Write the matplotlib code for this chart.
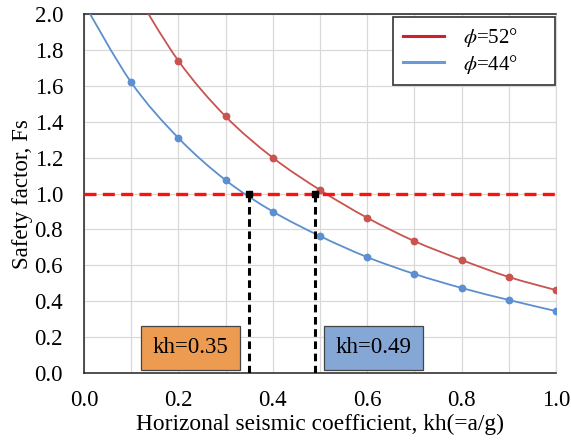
import matplotlib
matplotlib.use("Agg")
import matplotlib.pyplot as plt
from matplotlib.path import Path
from matplotlib.patches import PathPatch
from matplotlib.lines import Line2D
import numpy as np

plt.rcParams["font.family"] = ["Liberation Serif", "DejaVu Serif"]
plt.rcParams["mathtext.fontset"] = "stix"

# ---- data ----
kh_52 = [0.1, 0.2, 0.3, 0.4, 0.5, 0.6, 0.7, 0.8, 0.9, 1.0]
fs_52 = [2.16, 1.74, 1.43, 1.20, 1.02, 0.865, 0.735, 0.63, 0.535, 0.462]
kh_44 = [0.0, 0.1, 0.2, 0.3, 0.4, 0.5, 0.6, 0.7, 0.8, 0.9, 1.0]
fs_44 = [2.06, 1.62, 1.31, 1.075, 0.90, 0.763, 0.646, 0.552, 0.474, 0.407, 0.345]
kh_cross = [0.35, 0.49]
fs_limit = 1.0
box_labels = ["kh=0.35", "kh=0.49"]
box_x = [0.226, 0.614]        # box centres along x (data)

RED = "#C9534F"
BLUE = "#5B8FD0"
RED_LEG = "#D0202A"
BLUE_LEG = "#6A9BD8"


def smooth_path(xs, ys, t=1.0 / 6.0):
    """Excel-like smoothed line: Catmull-Rom converted to cubic Bezier."""
    pts = np.column_stack([xs, ys])
    verts = [pts[0]]
    codes = [Path.MOVETO]
    n = len(pts)
    for i in range(n - 1):
        p0 = pts[i - 1] if i > 0 else pts[i]
        p1, p2 = pts[i], pts[i + 1]
        p3 = pts[i + 2] if i + 2 < n else pts[i + 1]
        c1 = p1 + (p2 - p0) * t
        c2 = p2 - (p3 - p1) * t
        verts += [c1, c2, p2]
        codes += [Path.CURVE4] * 3
    return Path(verts, codes)


fig = plt.figure(figsize=(5.71, 4.42), dpi=100)
ax = fig.add_axes([0.147, 0.156, 0.827, 0.812])

for xs, ys, col in [(kh_52, fs_52, RED), (kh_44, fs_44, BLUE)]:
    ax.add_patch(PathPatch(smooth_path(xs, ys), facecolor="none",
                           edgecolor=col, lw=1.3, zorder=3))
    ax.plot(xs[1:] if xs[0] == 0.0 else xs, ys[1:] if xs[0] == 0.0 else ys,
            ls="none", marker="o", ms=4.6, color=col, zorder=4)

# safety-factor threshold and crossing points
ax.axhline(fs_limit, color="#FF1010", lw=2.4, ls=(0, (3.6, 1.9)), zorder=5)
for xc in kh_cross:
    ax.plot([xc, xc], [0, fs_limit], color="black", lw=2.2,
            ls=(0, (2.5, 1.5)), zorder=6)
    ax.plot([xc], [fs_limit], marker="s", ms=4.5, color="black", zorder=7)

for lbl, xc, fc in zip(box_labels, box_x, ["#EE9B52", "#85A7D6"]):
    ax.text(xc, 0.14, lbl, ha="center", va="center", fontsize=16.5,
            zorder=8,
            bbox=dict(boxstyle="square,pad=0.5", fc=fc, ec="#444444",
                      lw=0.9))

ax.set_xlim(0, 1.0)
ax.set_ylim(0, 2.0)
ax.set_xticks(np.arange(0, 1.01, 0.2))
ax.set_yticks(np.arange(0, 2.01, 0.2))
ax.set_xticklabels([f"{v:.1f}" for v in np.arange(0, 1.01, 0.2)])
ax.set_yticklabels([f"{v:.1f}" for v in np.arange(0, 2.01, 0.2)])
ax.tick_params(axis="x", length=0, labelsize=16.5, pad=12)
ax.tick_params(axis="y", length=0, labelsize=16.5, pad=15)
ax.set_xticks(np.arange(0.1, 1.0, 0.2), minor=True)
ax.tick_params(which="minor", length=0)
ax.grid(True, which="both", color="#D9D9D9", lw=0.9)
ax.set_axisbelow(True)
for s in ["left", "bottom", "top"]:
    ax.spines[s].set_color("#222222")
    ax.spines[s].set_linewidth(1.1)
ax.spines["right"].set_color("#D9D9D9")

ax.set_xlabel("Horizonal seismic coefficient, kh(=a/g)", fontsize=16.8,
              labelpad=2)
ax.set_ylabel("Safety factor, Fs", fontsize=16.5, labelpad=1)

handles = [Line2D([], [], color=RED_LEG, lw=2.2),
           Line2D([], [], color=BLUE_LEG, lw=2.2)]
leg = ax.legend(handles, [r"$\phi$=52°", r"$\phi$=44°"],
                loc="upper left", bbox_to_anchor=(0.655, 0.992, 0.343, 0.0),
                mode="expand", fontsize=15, frameon=True, fancybox=False,
                edgecolor="#333333", framealpha=1, handlelength=2.0,
                handletextpad=0.9, borderpad=0.45, borderaxespad=0.0,
                labelspacing=0.15)
leg.get_frame().set_linewidth(1.2)
leg.set_zorder(10)

fig.savefig("out.png", dpi=100)
